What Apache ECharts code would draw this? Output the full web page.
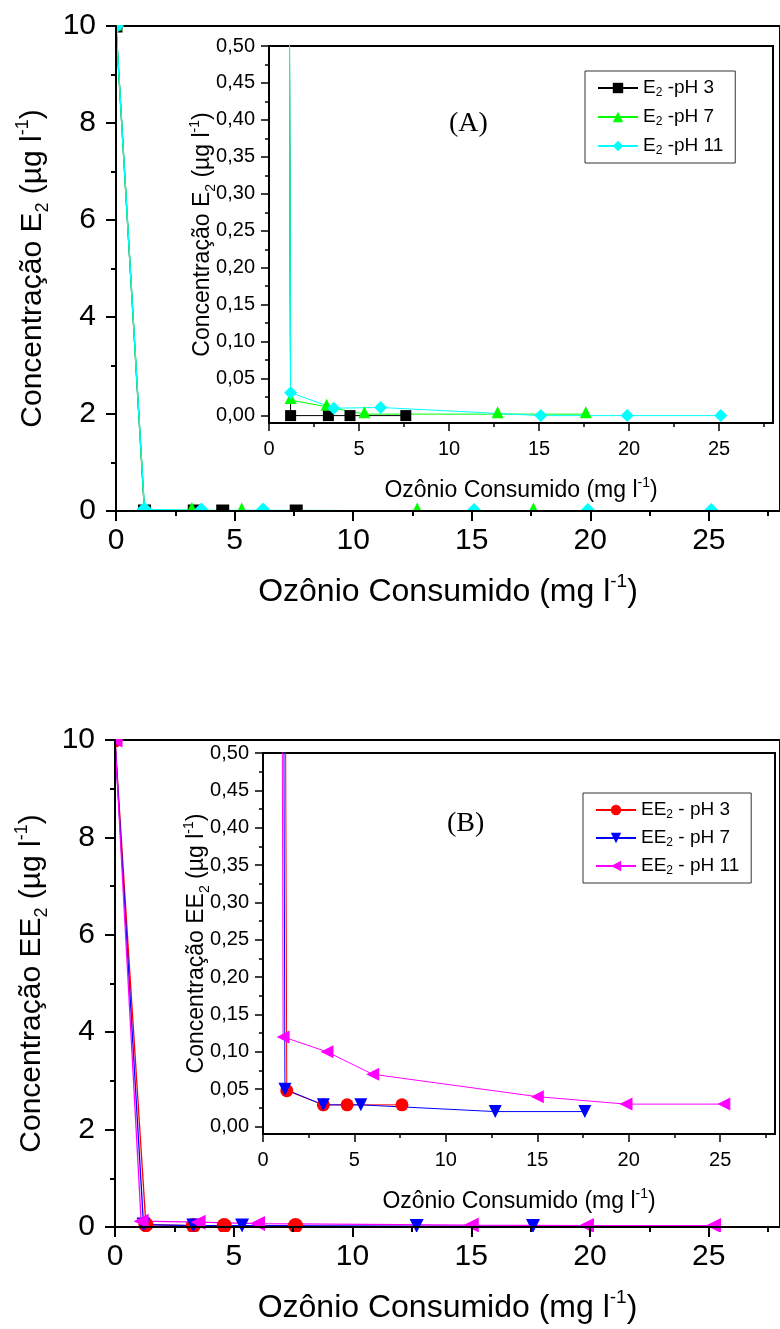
<!DOCTYPE html>
<html>
<head>
<meta charset="utf-8">
<script src="https://cdn.jsdelivr.net/npm/echarts@6/dist/echarts.min.js"></script>
<style>html,body{margin:0;padding:0;background:#fff;}#c{width:780px;height:1329px;}</style>
</head>
<body>
<div id="c"></div>
<script>
// ---------- data ----------
const namesA = ['E2 -pH 3', 'E2 -pH 7', 'E2 -pH 11'];
const namesB = ['EE2 - pH 3', 'EE2 - pH 7', 'EE2 - pH 11'];

const xE2pH3 = [0, 1.2, 3.3, 4.5, 7.6];
const yE2pH3 = [10, 0.0, 0.0, 0.0, 0.0];
const xE2pH7 = [0, 1.2, 3.2, 5.3, 12.7, 17.6];
const yE2pH7 = [10, 0.021, 0.012, 0.002, 0.002, 0.002];
const xE2pH11 = [0, 1.2, 3.6, 6.2, 15.1, 19.9, 25.1];
const yE2pH11 = [10, 0.031, 0.010, 0.011, 0.0, 0.0, 0.0];

const xEE2pH3 = [0, 1.3, 3.3, 4.6, 7.6];
const yEE2pH3 = [10, 0.048, 0.029, 0.029, 0.029];
const xEE2pH7 = [0, 1.2, 3.3, 5.35, 12.7, 17.6];
const yEE2pH7 = [10, 0.050, 0.029, 0.029, 0.020, 0.020];
const xEE2pH11 = [0, 1.1, 3.5, 6.0, 15.0, 19.85, 25.2];
const yEE2pH11 = [10, 0.12, 0.10, 0.07, 0.04, 0.03, 0.03];

// tick values
const xTicks = [0, 5, 10, 15, 20, 25];
const xMinorTicks = [2.5, 7.5, 12.5, 17.5, 22.5, 27.5];
const mainYTicks = [0, 2, 4, 6, 8, 10];
const mainYMinorTicks = [1, 3, 5, 7, 9];
const insetYTicks = [0, 0.05, 0.10, 0.15, 0.20, 0.25, 0.30, 0.35, 0.40, 0.45, 0.50];
const insetYMinorTicks = [0.025, 0.075, 0.125, 0.175, 0.225, 0.275, 0.325, 0.375, 0.425, 0.475];

// ---------- layout ----------
const W = 780, H = 1329;
const SANS = '"Liberation Sans", Arial, Helvetica, sans-serif';
const SERIF = '"Liberation Serif", "Times New Roman", serif';

const grids = [
  {L: 116, T: 26,  R: 789, B: 511, bg: 'transparent'},   // main A
  {L: 269, T: 46,  R: 773, B: 423, bg: '#fff'},          // inset A
  {L: 115, T: 740, R: 789, B: 1231, bg: 'transparent'},  // main B
  {L: 263, T: 753, R: 775, B: 1134, bg: '#fff'}          // inset B
];

function rich(small) {
  return {
    sub: {fontSize: small, lineHeight: small, verticalAlign: 'bottom', fontFamily: SANS, color: '#000'},
    sup: {fontSize: small, lineHeight: small, verticalAlign: 'top', fontFamily: SANS, color: '#000'}
  };
}

function nameStyle(size, small, lh) {
  return {fontSize: size, fontFamily: SANS, color: '#000', lineHeight: lh, rich: rich(small)};
}

function xAxes(gi, major, minor, labelSize, margin, tickLen, tickW, name, gap, ns) {
  return [
    {type: 'value', gridIndex: gi, min: 0, max: 28, position: 'bottom', z: 10,
     axisLine: {show: true, onZero: false, lineStyle: {color: '#000', width: 2}},
     axisTick: {show: true, customValues: major, length: tickLen, lineStyle: {color: '#000', width: tickW}},
     axisLabel: {show: true, customValues: major, fontSize: labelSize, fontFamily: SANS, color: '#000', margin: margin},
     splitLine: {show: false},
     name: name, nameLocation: 'middle', nameGap: gap, nameMoveOverlap: false, nameTextStyle: ns},
    {type: 'value', gridIndex: gi, min: 0, max: 28, position: 'bottom', z: 10,
     axisLine: {show: false, onZero: false},
     axisTick: {show: true, customValues: minor, length: Math.round(tickLen / 2), lineStyle: {color: '#000', width: tickW}},
     axisLabel: {show: false}, splitLine: {show: false}}
  ];
}

function yAxes(gi, min, max, major, minor, labelSize, margin, tickLen, tickW, fmt, name, gap, ns) {
  return [
    {type: 'value', gridIndex: gi, min: min, max: max, position: 'left', z: 10,
     axisLine: {show: true, onZero: false, lineStyle: {color: '#000', width: 2}},
     axisTick: {show: true, customValues: major, length: tickLen, lineStyle: {color: '#000', width: tickW}},
     axisLabel: {show: true, customValues: major, fontSize: labelSize, fontFamily: SANS, color: '#000', margin: margin, formatter: fmt},
     splitLine: {show: false},
     name: name, nameLocation: 'middle', nameGap: gap, nameRotate: 90, nameMoveOverlap: false, nameTextStyle: ns},
    {type: 'value', gridIndex: gi, min: min, max: max, position: 'left', z: 10,
     axisLine: {show: false, onZero: false},
     axisTick: {show: true, customValues: minor, length: Math.round(tickLen / 2), lineStyle: {color: '#000', width: tickW}},
     axisLabel: {show: false}, splitLine: {show: false}}
  ];
}

const commaFmt = v => v.toFixed(2).replace('.', ',');
const intFmt = v => String(Math.round(v));

const xTitle = 'Ozônio Consumido (mg l{sup|-1})';
const yTitleA = 'Concentração E{sub|2} (µg l{sup|-1})';
const yTitleB = 'Concentração EE{sub|2} (µg l{sup|-1})';

const xAxis = [].concat(
  xAxes(0, xTicks, xMinorTicks, 30, 15, 10, 2, xTitle, 61, nameStyle(32, 19, 40)),
  xAxes(1, xTicks, xMinorTicks, 20, 16, 8, 1.5, xTitle, 53, nameStyle(23, 14, 30)),
  xAxes(2, xTicks, xMinorTicks, 30, 15, 10, 2, xTitle, 61, nameStyle(32, 19, 40)),
  xAxes(3, xTicks, xMinorTicks, 20, 16, 8, 1.5, xTitle, 53, nameStyle(23, 14, 30))
);
const yAxis = [].concat(
  yAxes(0, 0, 10, mainYTicks, mainYMinorTicks, 30, 20, 10, 2, intFmt, yTitleA, 64, nameStyle(30, 18, 38)),
  yAxes(1, -0.01, 0.5, insetYTicks, insetYMinorTicks, 20, 14, 8, 1.5, commaFmt, yTitleA, 51, nameStyle(23, 14, 30)),
  yAxes(2, 0, 10, mainYTicks, mainYMinorTicks, 30, 20, 10, 2, intFmt, yTitleB, 64, nameStyle(30, 18, 38)),
  yAxes(3, -0.01, 0.5, insetYTicks, insetYMinorTicks, 20, 14, 8, 1.5, commaFmt, yTitleB, 51, nameStyle(23, 14, 30))
);

function pairs(xs, ys) { return xs.map((x, i) => [x, ys[i]]); }

function ser(name, xs, ys, axisIdx, color, symbol, size, rot, width, offset) {
  return {
    name: name, type: 'line', xAxisIndex: axisIdx, yAxisIndex: axisIdx,
    data: pairs(xs, ys), symbol: symbol, symbolSize: size, symbolRotate: rot || 0,
    symbolOffset: offset || [0, 0],
    showSymbol: true, showAllSymbol: true, clip: true, z: 2,
    lineStyle: {color: color, width: width}, itemStyle: {color: color},
    emphasis: {disabled: true}, animation: false
  };
}

const BLACK = '#000000', GREEN = '#00ff00', CYAN = '#00ffff';
const RED = '#ff0000', BLUE = '#0000ff', MAGENTA = '#ff00ff';

const series = [
  // panel A: main plot (axes 0) and inset (axes 2)
  ser(namesA[0], xE2pH3, yE2pH3, 0, BLACK, 'rect', 13, 0, 1.3),
  ser(namesA[1], xE2pH7, yE2pH7, 0, GREEN, 'triangle', 13, 0, 1.3, [0, -2]),
  ser(namesA[2], xE2pH11, yE2pH11, 0, CYAN, 'diamond', 16, 0, 1.3),
  ser(namesA[0], xE2pH3, yE2pH3, 2, BLACK, 'rect', 11, 0, 1),
  ser(namesA[1], xE2pH7, yE2pH7, 2, GREEN, 'triangle', 12, 0, 1, [0, -2]),
  ser(namesA[2], xE2pH11, yE2pH11, 2, CYAN, 'diamond', 13, 0, 1),
  // panel B: main plot (axes 4) and inset (axes 6)
  ser(namesB[0], xEE2pH3, yEE2pH3, 4, RED, 'circle', 15, 0, 1.3),
  ser(namesB[1], xEE2pH7, yEE2pH7, 4, BLUE, 'triangle', 14, 180, 1.3),
  ser(namesB[2], xEE2pH11, yEE2pH11, 4, MAGENTA, 'triangle', 15, 90, 1.3),
  ser(namesB[0], xEE2pH3, yEE2pH3, 6, RED, 'circle', 13, 0, 1),
  ser(namesB[1], xEE2pH7, yEE2pH7, 6, BLUE, 'triangle', 13, 180, 1),
  ser(namesB[2], xEE2pH11, yEE2pH11, 6, MAGENTA, 'triangle', 13, 90, 1)
];

const legendFmt = n => n.replace('E2', 'E{sub|2}');
function legend(names, left, top, pad, gap) {
  return {
    data: names, orient: 'vertical', left: left, top: top,
    itemWidth: 40, itemHeight: 13, itemGap: gap, padding: pad,
    borderColor: '#333', borderWidth: 1, backgroundColor: '#fff',
    selectedMode: false, formatter: legendFmt,
    textStyle: {fontSize: 19, fontFamily: SANS, color: '#000', lineHeight: 22,
                rich: {sub: {fontSize: 12, lineHeight: 12, verticalAlign: 'bottom', fontFamily: SANS, color: '#000'}}}
  };
}

// white masks outside the main plot areas (the original clips markers at the frame)
function masks(g) {
  const s = {fill: '#fff'};
  return [
    {type: 'rect', z: 5, silent: true, shape: {x: g.L - 30, y: g.B + 1, width: W - g.L + 40, height: 20}, style: s},
    {type: 'rect', z: 5, silent: true, shape: {x: g.L - 22, y: g.T - 22, width: 21, height: g.B - g.T + 44}, style: s},
    {type: 'rect', z: 5, silent: true, shape: {x: g.L - 22, y: g.T - 22, width: W - g.L + 40, height: 21}, style: s}
  ];
}

const option = {
  backgroundColor: '#fff',
  animation: false,
  grid: grids.map(g => ({left: g.L, top: g.T, width: g.R - g.L, height: g.B - g.T,
    show: true, borderColor: '#000', borderWidth: 2, backgroundColor: g.bg, containLabel: false})),
  xAxis: xAxis,
  yAxis: yAxis,
  legend: [
    legend(namesA, 585, 71, [6, 12, 6, 12], 7),
    legend(namesB, 583, 793, [6, 12, 6, 12], 6)
  ],
  graphic: [].concat(
    masks(grids[0]), masks(grids[2]),
    [
      {type: 'text', z: 20, left: 449, top: 110, style: {text: '(A)', font: '28px ' + SERIF, fill: '#000'}},
      {type: 'text', z: 20, left: 447, top: 810, style: {text: '(B)', font: '28px ' + SERIF, fill: '#000'}}
    ]
  ),
  series: series
};

const chart = echarts.init(document.getElementById('c'), null, {renderer: 'canvas', width: W, height: H});
chart.setOption(option);
</script>
</body>
</html>
